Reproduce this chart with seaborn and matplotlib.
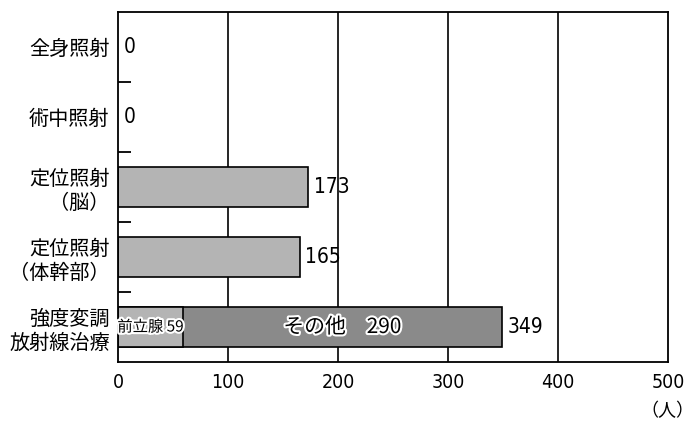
import numpy as np
import pandas as pd
import seaborn as sns
import matplotlib.pyplot as plt
import matplotlib.patheffects as pe
from matplotlib.ticker import FixedLocator

categories = ['全身照射', '術中照射', '定位照射\n（脳）', '定位照射\n（体幹部）', '強度変調\n放射線治療']
totals = [0, 0, 173, 165, 349]
prostate = [0, 0, 0, 0, 59]
other = [0, 0, 0, 0, 290]
x_ticks = [0, 100, 200, 300, 400, 500]

sns.set_style('white')
plt.rcParams['font.family'] = ['Noto Sans CJK JP', 'DejaVu Sans']
plt.rcParams['text.color'] = 'black'
plt.rcParams['xtick.color'] = 'black'
plt.rcParams['ytick.color'] = 'black'
plt.rcParams['xtick.labelcolor'] = 'black'
plt.rcParams['ytick.labelcolor'] = 'black'
num_font = ['DejaVu Sans', 'Noto Sans CJK JP']

light = '#b4b4b4'
dark = '#8a8a8a'

df = pd.DataFrame({'cat': categories, 'total': totals, 'prostate': prostate})

fig = plt.figure(figsize=(7, 4.37), dpi=100)
ax = fig.add_axes([0.1686, 0.1716, 0.7857, 0.8009])

# full bars (IMRT total drawn dark, the prostate part overlays it)
pal = [light, light, light, light, dark]
sns.barplot(data=df, x='total', y='cat', hue='cat', palette=pal, legend=False,
            orient='h', width=0.56, edgecolor='black', linewidth=1.2, ax=ax)
sns.barplot(data=df, x='prostate', y='cat', color=light, orient='h', width=0.56,
            edgecolor='black', linewidth=1.2, ax=ax)
# hide zero-width outlines
for p in ax.patches:
    if p.get_width() == 0:
        p.set_visible(False)

ax.set_xlim(0, 500)
ax.set_ylim(4.5, -0.5)
ax.set_xticks(x_ticks)
ax.set_xticklabels([str(t) for t in x_ticks], family=num_font, stretch='condensed', fontsize=14)
ax.tick_params(axis='x', length=0, pad=8)
ax.tick_params(axis='y', which='major', length=0, pad=6, labelsize=14.5)
ax.yaxis.set_minor_locator(FixedLocator([0.5, 1.5, 2.5, 3.5]))
ax.tick_params(axis='y', which='minor', left=True, direction='in', length=9, width=1.3, color='black')
ax.set_xlabel('')
ax.set_ylabel('')

for x in x_ticks[1:-1]:
    ax.axvline(x, color='black', linewidth=1.2, zorder=0)
for s in ax.spines.values():
    s.set_color('black')
    s.set_linewidth(1.3)

# value labels
for i, v in enumerate(totals):
    ax.text(v + 5, i, str(v), va='center', ha='left', fontsize=15,
            family=num_font, stretch='condensed')

stroke = [pe.withStroke(linewidth=3, foreground='white')]
ax.text(prostate[4] / 2, 4, f'前立腺 {prostate[4]}', va='center', ha='center',
        fontsize=11, family=['Noto Sans CJK JP'], path_effects=stroke)
ax.text(prostate[4] + other[4] / 2, 4, f'その他　{other[4]}', va='center', ha='center',
        fontsize=15, path_effects=stroke)

fig.text(0.954, 0.06, '（人）', ha='center', va='center', fontsize=13)

fig.savefig('out.png', dpi=100)
